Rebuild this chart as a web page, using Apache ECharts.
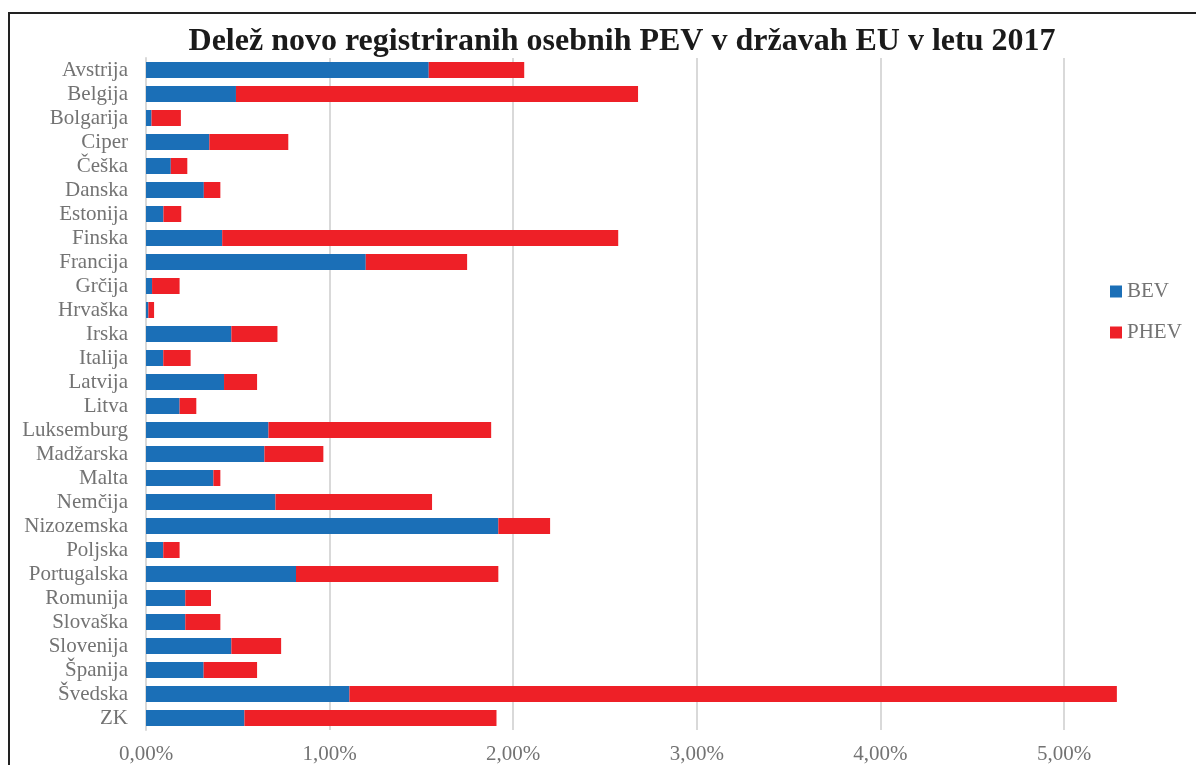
<!DOCTYPE html>
<html>
<head>
<meta charset="utf-8">
<script src="https://cdn.jsdelivr.net/npm/echarts@6/dist/echarts.min.js"></script>
<style>
html, body { margin: 0; padding: 0; background: #fff; }
#main { width: 1196px; height: 765px; }
</style>
</head>
<body>
<div id="main"></div>
<script>
// države (od zgoraj navzdol)
var drzave = ['Avstrija', 'Belgija', 'Bolgarija', 'Ciper', 'Češka', 'Danska', 'Estonija', 'Finska',
	'Francija', 'Grčija', 'Hrvaška', 'Irska', 'Italija', 'Latvija', 'Litva', 'Luksemburg',
	'Madžarska', 'Malta', 'Nemčija', 'Nizozemska', 'Poljska', 'Portugalska', 'Romunija',
	'Slovaška', 'Slovenija', 'Španija', 'Švedska', 'ZK'];
// delež v %
var bev = [1.54, 0.49, 0.03, 0.345, 0.135, 0.315, 0.095, 0.415,
	1.197, 0.033, 0.013, 0.465, 0.094, 0.425, 0.183, 0.667,
	0.645, 0.367, 0.705, 1.919, 0.094, 0.817, 0.214,
	0.214, 0.465, 0.314, 1.108, 0.536];
var phev = [0.52, 2.19, 0.16, 0.43, 0.09, 0.09, 0.097, 2.157,
	0.552, 0.15, 0.031, 0.251, 0.149, 0.18, 0.091, 1.213,
	0.321, 0.038, 0.853, 0.282, 0.089, 1.102, 0.14,
	0.191, 0.271, 0.291, 4.18, 1.373];
var xTicks = [0, 1, 2, 3, 4, 5, 6];

var myChart = echarts.init(document.getElementById('main'));
var pisava = '"Liberation Serif", "Times New Roman", serif';
var siva = '#737373';

var option = {
	backgroundColor: '#fff',
	animation: false,
	title: {
		text: 'Delež novo registriranih osebnih PEV v državah EU v letu 2017',
		left: 617,
		top: 21,
		textAlign: 'center',
		textStyle: { fontFamily: pisava, fontSize: 32, fontWeight: 'bold', color: '#1a1a1a' }
	},
	legend: {
		orient: 'vertical',
		left: 1105,
		top: 276,
		itemWidth: 12,
		itemHeight: 12,
		itemGap: 20,
		icon: 'rect',
		textStyle: { fontFamily: pisava, fontSize: 21, color: siva },
		data: ['BEV', 'PHEV']
	},
	graphic: [{
		type: 'rect',
		shape: { x: 9, y: 13, width: 1400, height: 900 },
		style: { fill: 'none', stroke: '#222', lineWidth: 2 },
		z: 100
	}],
	grid: {
		left: 146, width: 183.6 * 6, top: 58, height: 672,
		containLabel: false, outerBoundsMode: 'none'
	},
	xAxis: {
		type: 'value',
		min: xTicks[0],
		max: xTicks[xTicks.length - 1],
		interval: 1,
		axisLine: { show: false },
		axisTick: { show: false },
		splitLine: { lineStyle: { color: '#d9d9d9', width: 2 } },
		axisLabel: {
			fontFamily: pisava, fontSize: 21, color: siva, margin: 14,
			formatter: function (v) { return v.toFixed(2).replace('.', ',') + '%'; }
		}
	},
	yAxis: {
		type: 'category',
		inverse: true,
		data: drzave,
		axisLine: { show: true, lineStyle: { color: '#d9d9d9', width: 2 } },
		axisTick: { show: false },
		axisLabel: { fontFamily: pisava, fontSize: 21, color: siva, margin: 18, interval: 0 }
	},
	series: [{
		name: 'BEV',
		type: 'bar',
		stack: 'skupaj',
		barWidth: 16,
		itemStyle: { color: '#1b6fb7' },
		data: bev
	}, {
		name: 'PHEV',
		type: 'bar',
		stack: 'skupaj',
		barWidth: 16,
		itemStyle: { color: '#ee2027' },
		data: phev
	}]
};
myChart.setOption(option);
</script>
</body>
</html>
